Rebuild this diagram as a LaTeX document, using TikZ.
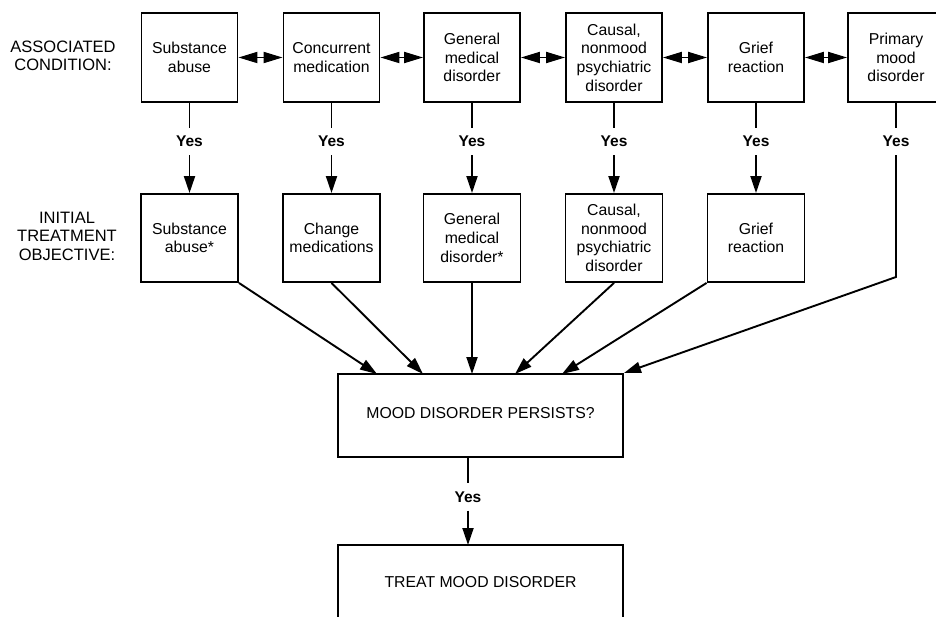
\documentclass[tikz,border=0pt]{standalone}
\usepackage{fontspec}
\setmainfont{Liberation Sans}
\usetikzlibrary{arrows.meta}
\begin{document}
\begin{tikzpicture}[x=1pt,y=-1pt,
  txt/.style={font=\fontsize{15.8}{18.7}\selectfont, align=center},
  topbox/.style={draw, line width=1.9pt, txt, minimum width=96pt, minimum height=89pt, inner sep=0pt},
  midbox/.style={draw, line width=1.9pt, txt, minimum width=97pt, minimum height=88pt, inner sep=0pt},
  bigbox/.style={draw, line width=1.9pt, minimum width=285pt, minimum height=83pt, inner sep=0pt},
  yeslbl/.style={font=\fontsize{15.5}{18}\selectfont\bfseries, minimum height=27pt, inner sep=0pt},
  side/.style={txt, font=\fontsize{16.5}{18.5}\selectfont},
  conn/.style={line width=1.9pt},
  arr/.style={conn, -{Triangle[length=17pt,width=11pt]}},
  dbl/.style={conn, {Triangle[length=19pt,width=11pt]}-{Triangle[length=19pt,width=11pt]}},
]
\useasboundingbox (0,0) rectangle (936,617);
\clip (0,0) rectangle (936,617);

% side labels
\node[side] (lab1) at (63,56) {ASSOCIATED\\CONDITION:};
\node[side] (lab2) at (67,236) {INITIAL\\TREATMENT\\OBJECTIVE:};

% top row
\node[topbox] (a1) at (189.5,57.5) {Substance\\abuse};
\node[topbox] (a2) at (331.5,57.5) {Concurrent\\medication};
\node[topbox] (a3) at (472,57.5) {General\\medical\\disorder};
\node[topbox] (a4) at (614,57.5) {Causal,\\nonmood\\psychiatric\\disorder};
\node[topbox] (a5) at (756,57.5) {Grief\\reaction};
\node[topbox] (a6) at (896,57.5) {Primary\\mood\\disorder};

\draw[dbl] (a1.east) -- (a2.west);
\draw[dbl] (a2.east) -- (a3.west);
\draw[dbl] (a3.east) -- (a4.west);
\draw[dbl] (a4.east) -- (a5.west);
\draw[dbl] (a5.east) -- (a6.west);

% second row
\node[midbox] (b1) at (189.5,238) {Substance\\abuse*};
\node[midbox] (b2) at (331.5,238) {Change\\medications};
\node[midbox] (b3) at (472,238) {General\\medical\\disorder*};
\node[midbox] (b4) at (614,238) {Causal,\\nonmood\\psychiatric\\disorder};
\node[midbox] (b5) at (756,238) {Grief\\reaction};

% Yes labels
\foreach \i/\xx in {1/189.5,2/331.5,3/472,4/614,5/756,6/896}{
  \node[yeslbl] (y\i) at (\xx,141.5) {Yes};
  \draw[conn] (a\i.south) -- (y\i.north);
}
\foreach \i in {1,...,5}{
  \draw[arr] (y\i.south) -- (b\i.north);
}

% mood box
\node[bigbox] (mood) at (480.5,415.5) {};
\node[txt] (moodtxt) at (480.5,413) {MOOD DISORDER PERSISTS?};
\node[bigbox, minimum height=90pt] (treat) at (480.5,590) {};
\node[txt] (treattxt) at (480.5,582) {TREAT MOOD DISORDER};

\coordinate (m1) at (377,374);
\coordinate (m2) at (423,374);
\coordinate (m3) at (472,374);
\coordinate (m4) at (515,374);
\coordinate (m5) at (562,374);
\coordinate (bend) at (896,277);

\draw[arr] (b1.south east) -- (m1);
\draw[arr] (b2.south) -- (m2);
\draw[arr] (b3.south) -- (m3);
\draw[arr] (b4.south) -- (m4);
\draw[arr] (b5.south west) -- (m5);
\draw[arr] (y6.south) -- (bend) -- (mood.north east);

% bottom
\node[yeslbl] (y7) at (468,497) {Yes};
\coordinate (t1) at (468,545);
\draw[conn] (mood.south -| y7) -- (y7.north);
\draw[arr] (y7.south) -- (t1);
\end{tikzpicture}
\end{document}
